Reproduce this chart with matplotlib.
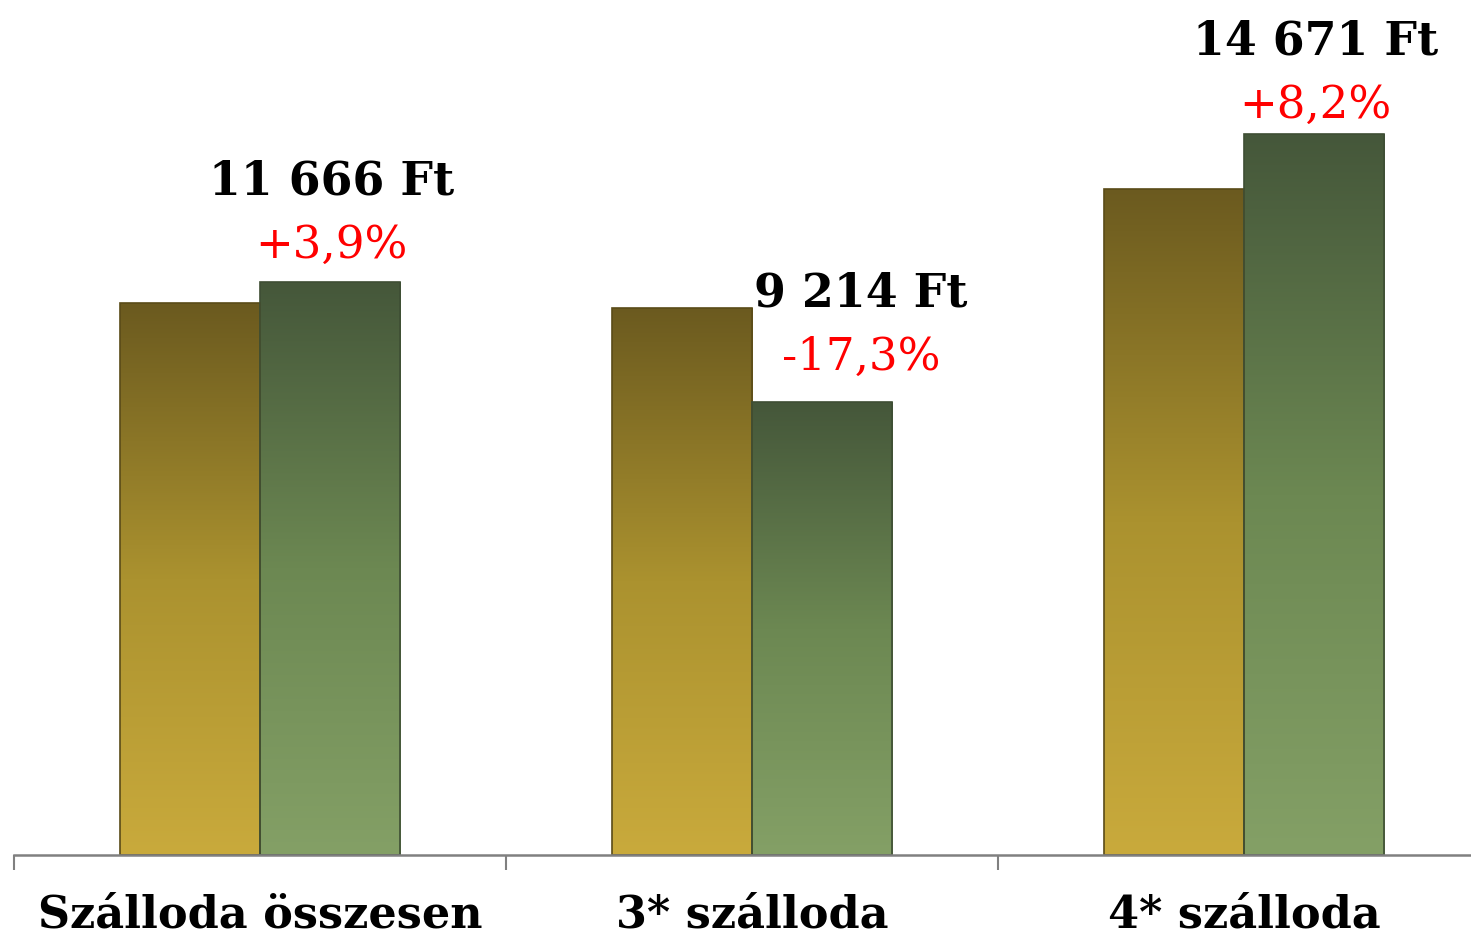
import matplotlib.pyplot as plt
import numpy as np
from matplotlib.colors import LinearSegmentedColormap

# Adatok (átlagár, Ft)
kategoriak = ["Szálloda összesen", "3* szálloda", "4* szálloda"]
elozo_ev = [11228, 11141, 13559]
aktualis_ev = [11666, 9214, 14671]
ertek_cimkek = ["11 666 Ft", "9 214 Ft", "14 671 Ft"]
valtozas_cimkek = ["+3,9%", "-17,3%", "+8,2%"]

# címkék eltolása (pont): x, piros sor y, fekete sor y
cimke_dx = [1, 28, 1]
piros_dy = [17, 23, 12]
fekete_dy = [63, 69, 57]

fig = plt.figure(figsize=(14.71, 9.36), dpi=100)
ax = fig.add_axes([14 / 1471, 81 / 936, 1457 / 1471, 0.84])

x = np.arange(len(kategoriak))
w = 0.285
b1 = ax.bar(x - w / 2, elozo_ev, w, color="none", edgecolor="#5a4b18", linewidth=1.2, zorder=2)
b2 = ax.bar(x + w / 2, aktualis_ev, w, color="none", edgecolor="#3e4e34", linewidth=1.2, zorder=2)

arany = LinearSegmentedColormap.from_list("arany", ["#c9aa3c", "#ab922f", "#6b5a1f"])
zold = LinearSegmentedColormap.from_list("zold", ["#84a066", "#6c8852", "#45573a"])
grad = np.linspace(0, 1, 256).reshape(-1, 1)

for bars, cm in ((b1, arany), (b2, zold)):
    for p in bars:
        x0, y0 = p.get_x(), p.get_y()
        im = ax.imshow(grad, cmap=cm, origin="lower", aspect="auto",
                       extent=[x0, x0 + p.get_width(), y0, y0 + p.get_height()], zorder=1)
        im.set_clip_path(p)

ax.set_xlim(-0.5, -0.5 + 1457 / 492)
ax.set_ylim(0, 16000)

for i, p in enumerate(b2):
    cx = p.get_x() + p.get_width() / 2
    h = p.get_height()
    ax.annotate(valtozas_cimkek[i], (cx, h), xytext=(cimke_dx[i], piros_dy[i]),
                textcoords="offset points", ha="center", va="baseline",
                color="#ff0000", fontsize=32.5, family="DejaVu Serif", annotation_clip=False)
    ax.annotate(ertek_cimkek[i], (cx, h), xytext=(cimke_dx[i], fekete_dy[i]),
                textcoords="offset points", ha="center", va="baseline",
                color="black", fontsize=33, fontweight="bold", family="DejaVu Serif",
                annotation_clip=False)

for s in ("top", "right", "left"):
    ax.spines[s].set_visible(False)
ax.spines["bottom"].set_color("#808080")
ax.spines["bottom"].set_linewidth(1.8)
ax.set_yticks([])
ax.set_xticks([-0.5, 0.5, 1.5])
ax.set_xticklabels([])
ax.tick_params(axis="x", which="major", length=11, width=1.5, color="#808080")
ax.set_xticks(x, minor=True)
ax.set_xticklabels(kategoriak, minor=True, fontsize=32, fontweight="bold", family="DejaVu Serif")
ax.tick_params(axis="x", which="minor", length=0, pad=28)

fig.savefig("out.png", dpi=100)
